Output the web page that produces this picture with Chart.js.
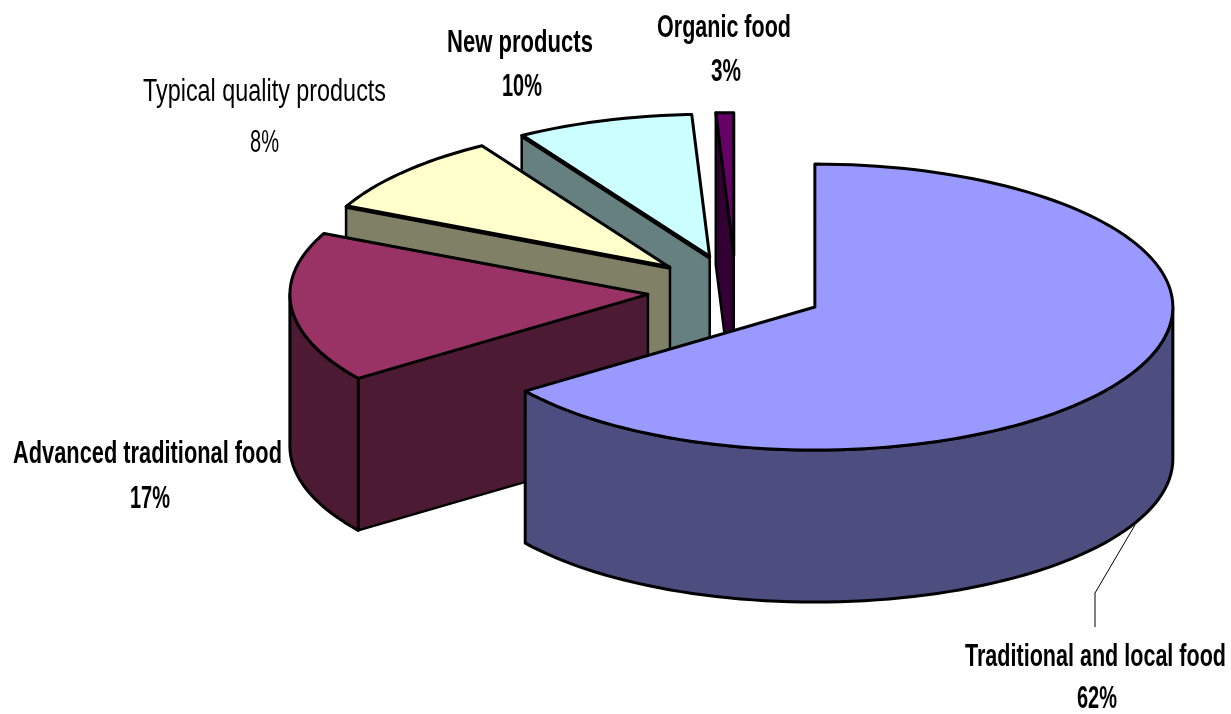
<!DOCTYPE html>
<html>
<head>
<meta charset="utf-8">
<title>Food categories</title>
<script src="https://cdn.jsdelivr.net/npm/chart.js@4"></script>
<style>
  html, body { margin: 0; padding: 0; background: #fff; }
  canvas { display: block; }
</style>
</head>
<body>
<canvas id="pie3d" width="1231" height="714"></canvas>
<script>
const categories = ["Traditional and local food", "Advanced traditional food", "Typical quality products", "New products", "Organic food"];
// percentages as printed on the labels
const printedPercents = ["62%", "17%", "8%", "10%", "3%"];
// share of the circle each wedge really takes in the picture (differs a bit from the printed text)
const sliceShares = [65, 17, 9.2, 8, 0.8];
const topColors = ["#9999FF", "#993366", "#FFFFCC", "#CCFFFF", "#660066"];
const wallColors = ["#4D4D80", "#4D1A33", "#808066", "#668080", "#330033"];

// where the flattened pie sits on the page
const view = { cx: 736, cy: 291, rx: 358, ry: 143, depth: 152, pull: 88.5 };
const STEP = Math.PI / 90;

// label boxes: left, right, baseline of name and of percent
const labelBoxes = [
  { name: [965, 1226, 666], pct: [1077, 1117, 708], font: "bold" },
  { name: [13, 282, 463], pct: [130, 170, 508], font: "bold" },
  { name: [143, 386, 101], pct: [250, 279, 152], font: "normal" },
  { name: [447, 593, 52], pct: [502, 542, 96], font: "bold" },
  { name: [657, 791, 37], pct: [711, 741, 81], font: "bold" }
];
const leader = [[1135, 525], [1095, 593], [1095, 627]];

function fitText(ctx, text, box, weight) {
  ctx.save();
  ctx.font = weight + " 31px 'Liberation Sans', Arial, sans-serif";
  ctx.fillStyle = "#000";
  ctx.textBaseline = "alphabetic";
  ctx.translate(box[0], box[2]);
  ctx.scale((box[1] - box[0]) / ctx.measureText(text).width, 1);
  ctx.fillText(text, 0, 0);
  ctx.restore();
}

function polygon(ctx, pts, fill, width) {
  ctx.beginPath();
  pts.forEach((p, i) => { if (i === 0) ctx.moveTo(p[0], p[1]); else ctx.lineTo(p[0], p[1]); });
  ctx.closePath();
  if (fill) { ctx.fillStyle = fill; ctx.fill(); }
  ctx.lineWidth = width;
  ctx.strokeStyle = "#000";
  ctx.stroke();
}

const pie3dPlugin = {
  id: "pie3d",
  beforeDatasetsDraw(chart) {
    const ctx = chart.ctx;
    const arcs = chart.getDatasetMeta(0).data;
    ctx.save();
    ctx.lineJoin = "round";
    // back wedges first, the big one last
    for (let i = arcs.length - 1; i >= 0; i--) {
      const arc = arcs[i];
      const k = view.rx / arc.outerRadius;
      const squash = view.ry / view.rx;
      const mid = (arc.startAngle + arc.endAngle) / 2;
      const ox = view.cx + Math.cos(mid) * view.pull;
      const oy = view.cy + Math.sin(mid) * view.pull * squash;
      const rim = (a, z) => [ox + view.rx * Math.cos(a), oy + view.ry * Math.sin(a) + z];

      // cut face on the start side, only when it looks toward the viewer
      if (-Math.cos(arc.startAngle) > 0) {
        const a = arc.startAngle;
        polygon(ctx, [[ox, oy], rim(a, 0), rim(a, view.depth), [ox, oy + view.depth]], wallColors[i], 2.5);
      }
      // outer curved wall, front half only
      const from = Math.max(arc.startAngle, 0);
      const to = Math.min(arc.endAngle, Math.PI);
      if (to > from) {
        const edge = [];
        for (let a = from; a < to; a += STEP) edge.push(a);
        edge.push(to);
        const wall = edge.map(a => rim(a, 0)).concat(edge.slice().reverse().map(a => rim(a, view.depth)));
        polygon(ctx, wall, wallColors[i], 3);
      }
      // top face is the library's own arc, flattened
      ctx.save();
      ctx.translate(ox, oy);
      ctx.scale(k, k * squash);
      ctx.translate(-arc.x, -arc.y);
      arc.draw(ctx);
      ctx.restore();

      const outline = [[ox, oy]];
      for (let a = arc.startAngle; a < arc.endAngle; a += STEP) outline.push(rim(a, 0));
      outline.push(rim(arc.endAngle, 0));
      polygon(ctx, outline, null, 3);
      // the two middle wedges have a heavier front edge
      if (i === 2 || i === 3) {
        ctx.beginPath();
        ctx.moveTo(ox, oy);
        ctx.lineTo(rim(arc.startAngle, 0)[0], rim(arc.startAngle, 0)[1]);
        ctx.lineWidth = 4.5;
        ctx.stroke();
      }
    }
    ctx.restore();
    return false;
  },
  afterDraw(chart) {
    const ctx = chart.ctx;
    ctx.save();
    ctx.beginPath();
    leader.forEach((p, i) => { if (i === 0) ctx.moveTo(p[0], p[1]); else ctx.lineTo(p[0], p[1]); });
    ctx.lineWidth = 1;
    ctx.strokeStyle = "#000";
    ctx.stroke();
    ctx.restore();
    categories.forEach((name, i) => {
      fitText(ctx, name, labelBoxes[i].name, labelBoxes[i].font);
      fitText(ctx, printedPercents[i], labelBoxes[i].pct, labelBoxes[i].font);
    });
  }
};

new Chart(document.getElementById("pie3d"), {
  type: "pie",
  plugins: [pie3dPlugin],
  data: {
    labels: categories,
    datasets: [{
      data: sliceShares,
      backgroundColor: topColors,
      borderWidth: 0
    }]
  },
  options: {
    responsive: false,
    animation: false,
    events: [],
    plugins: { legend: { display: false }, tooltip: { enabled: false } }
  }
});
</script>
</body>
</html>
